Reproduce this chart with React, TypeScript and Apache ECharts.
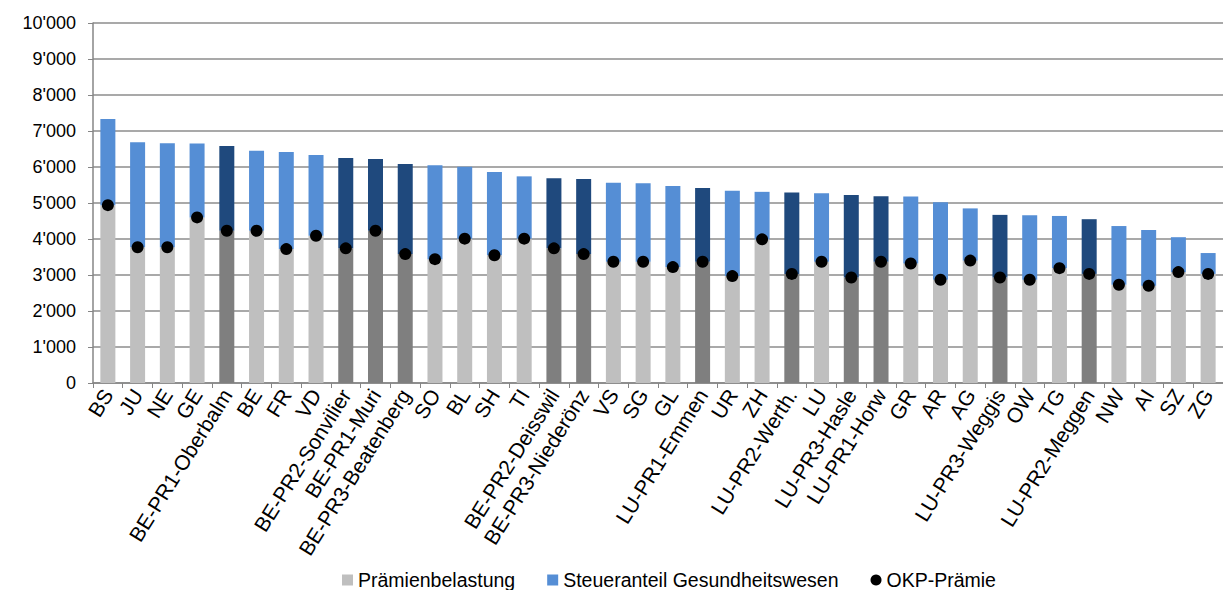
import React, { useEffect, useRef } from "react";
import * as echarts from "echarts";

const categories = [
  "BS", "JU", "NE", "GE", "BE-PR1-Oberbalm", "BE", "FR", "VD", "BE-PR2-Sonvilier", "BE-PR1-Muri",
  "BE-PR3-Beatenberg", "SO", "BL", "SH", "TI", "BE-PR2-Deisswil", "BE-PR3-Niederönz", "VS", "SG", "GL",
  "LU-PR1-Emmen", "UR", "ZH", "LU-PR2-Werth.", "LU", "LU-PR3-Hasle", "LU-PR1-Horw", "GR", "AR", "AG",
  "LU-PR3-Weggis", "OW", "TG", "LU-PR2-Meggen", "NW", "AI", "SZ", "ZG",
];

// Prämienbelastung (grey part)
const praemienbelastung = [
  4940, 3770, 3770, 4600, 4230, 4230, 3720, 4090, 3740, 4230,
  3580, 3440, 4010, 3550, 4010, 3740, 3580, 3370, 3370, 3220,
  3370, 2970, 3990, 3030, 3370, 2930, 3370, 3320, 2870, 3400,
  2930, 2870, 3190, 3030, 2730, 2700, 3080, 3030,
];

// Steueranteil Gesundheitswesen (blue part, stacked)
const steueranteil = [
  2390, 2920, 2890, 2050, 2350, 2220, 2700, 2240, 2510, 1990,
  2500, 2610, 2000, 2310, 1730, 1950, 2090, 2190, 2180, 2250,
  2050, 2370, 1320, 2260, 1900, 2290, 1820, 1860, 2150, 1450,
  1740, 1790, 1450, 1520, 1630, 1550, 970, 580,
];

// OKP-Prämie (dots)
const okpPraemie = [
  4940, 3770, 3770, 4600, 4230, 4230, 3720, 4090, 3740, 4230,
  3580, 3440, 4010, 3550, 4010, 3740, 3580, 3370, 3370, 3220,
  3370, 2970, 3990, 3030, 3370, 2930, 3370, 3320, 2870, 3400,
  2930, 2870, 3190, 3030, 2730, 2700, 3080, 3030,
];

const yTicks = [0, 1000, 2000, 3000, 4000, 5000, 6000, 7000, 8000, 9000, 10000];

const GREY = "#BFBFBF";
const DARK_GREY = "#7F7F7F";
const BLUE = "#558ED5";
const NAVY = "#1F497D";
const FONT = "'Liberation Sans', Arial, sans-serif";

const isRegion = (c: string) => c.includes("-PR");

export default function App() {
  const ref = useRef<HTMLDivElement>(null);

  useEffect(() => {
    if (!ref.current) return;
    const chart = echarts.init(ref.current, null, { renderer: "svg" });
    const fmt = (v: number) => {
      const s = String(Math.round(v));
      return s.replace(/\B(?=(\d{3})+(?!\d))/g, "'");
    };
    chart.setOption({
      animation: false,
      backgroundColor: "#ffffff",
      textStyle: { fontFamily: FONT },
      grid: { left: 93, right: -10, top: 23, bottom: 207, containLabel: false },
      legend: {
        left: 337,
        top: 565,
        itemWidth: 11,
        itemHeight: 11,
        itemGap: 32,
        textStyle: { fontSize: 19.5, color: "#000", fontFamily: FONT, lineHeight: 19 },
        data: [
          { name: "Prämienbelastung", icon: "rect" },
          { name: "Steueranteil Gesundheitswesen", icon: "rect" },
          { name: "OKP-Prämie", icon: "circle" },
        ],
      },
      xAxis: {
        type: "category",
        data: categories,
        boundaryGap: true,
        axisLine: { lineStyle: { color: "#868686", width: 1.5 } },
        axisTick: { show: true, length: 5, lineStyle: { color: "#868686" } },
        axisLabel: {
          interval: 0,
          rotate: 58,
          fontSize: 21,
          color: "#000",
          fontFamily: FONT,
          margin: 8,
        },
      },
      yAxis: {
        type: "value",
        min: yTicks[0],
        max: yTicks[yTicks.length - 1],
        interval: 1000,
        axisLine: { show: true, lineStyle: { color: "#868686", width: 1.5 } },
        axisTick: { show: true, length: 5, lineStyle: { color: "#868686" } },
        axisLabel: {
          fontSize: 18,
          color: "#000",
          fontFamily: FONT,
          margin: 17,
          formatter: (v: number) => fmt(v),
        },
        splitLine: { show: true, lineStyle: { color: "#8c8c8c", width: 1.5 } },
      },
      series: [
        {
          name: "Prämienbelastung",
          type: "bar",
          stack: "total",
          barWidth: 15,
          itemStyle: { color: GREY },
          data: praemienbelastung.map((v, i) => ({
            value: v,
            itemStyle: { color: isRegion(categories[i]) ? DARK_GREY : GREY },
          })),
        },
        {
          name: "Steueranteil Gesundheitswesen",
          type: "bar",
          stack: "total",
          barWidth: 15,
          itemStyle: { color: BLUE },
          data: steueranteil.map((v, i) => ({
            value: v,
            itemStyle: { color: isRegion(categories[i]) ? NAVY : BLUE },
          })),
        },
        {
          name: "OKP-Prämie",
          type: "scatter",
          symbol: "circle",
          symbolSize: 12,
          itemStyle: { color: "#000", opacity: 1 },
          z: 5,
          data: okpPraemie,
        },
      ],
    });
    return () => chart.dispose();
  }, []);

  return (
    <div
      ref={ref}
      style={{ position: "absolute", left: 0, top: 0, width: 1223, height: 590 }}
    />
  );
}
